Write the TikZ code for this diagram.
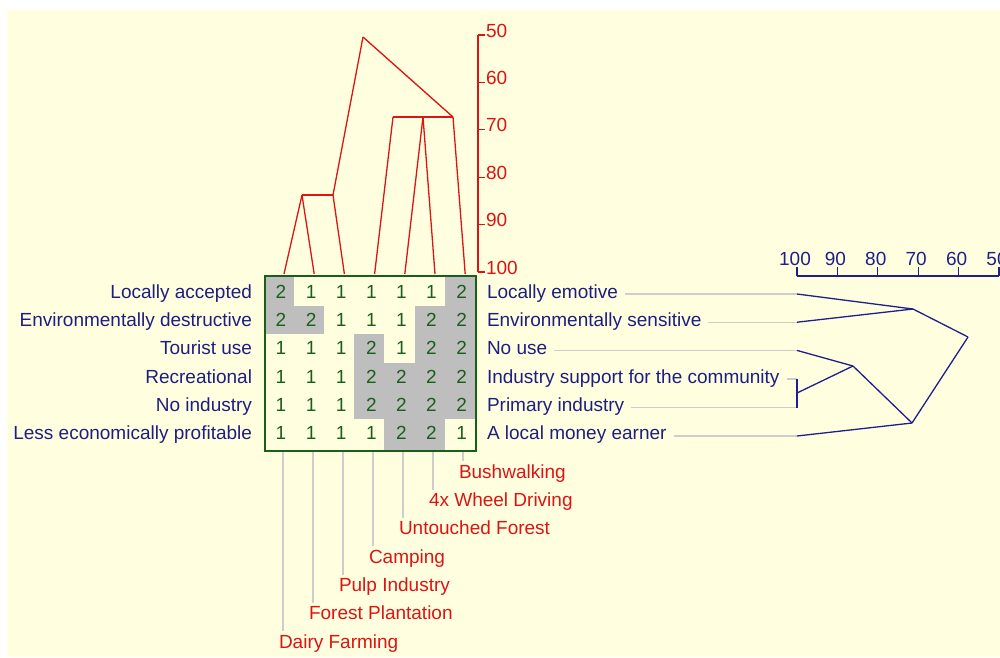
\documentclass[tikz,border=0pt]{standalone}
\usepackage{fontspec}
\setmainfont{Liberation Sans}
\definecolor{bg}{RGB}{255,255,224}
\definecolor{navy}{RGB}{30,30,130}
\definecolor{dred}{RGB}{220,20,20}
\definecolor{dgreen}{RGB}{25,95,25}
\definecolor{cellgray}{RGB}{190,190,190}
\definecolor{leader}{RGB}{205,205,205}
\definecolor{dblue}{RGB}{30,30,140}
\begin{document}
\begin{tikzpicture}[x=1pt,y=-1pt,
  lbl/.style={font=\fontsize{19}{21}\selectfont, inner sep=0pt, outer sep=0pt},
  rowlbl/.style={lbl, text=navy, anchor=base east},
  rlbl/.style={lbl, text=navy, anchor=base west},
  collbl/.style={lbl, text=dred, anchor=base west},
  numlbl/.style={lbl, text=dgreen, anchor=base},
  redax/.style={lbl, text=dred, anchor=base west},
  blueax/.style={lbl, text=dblue, anchor=base},
  redline/.style={draw=dred, line width=1.3pt},
  blueline/.style={draw=dblue, line width=1.3pt},
  leadline/.style={draw=leader, line width=1.4pt},
  gridbox/.style={draw=dgreen, line width=2pt, minimum width=211pt, minimum height=175pt, inner sep=0pt, anchor=north west},
]
\useasboundingbox (0,0) rectangle (1000,657);
\fill[white] (0,0) rectangle (1000,657);
\fill[bg] (7,10) rectangle (1000,657);

% grey cells (value 2)
\fill[cellgray] (264,275) rectangle (294.1,306);
\fill[cellgray] (444.6,275) rectangle (475,306);
\fill[cellgray] (264,306) rectangle (324.2,334);
\fill[cellgray] (414.5,306) rectangle (475,334);
\fill[cellgray] (354.3,334) rectangle (384.4,362.5);
\fill[cellgray] (414.5,334) rectangle (475,362.5);
\fill[cellgray] (354.3,362.5) rectangle (475,419);
\fill[cellgray] (384.4,419) rectangle (444.6,450);

% numbers
\foreach \vals [count=\r from 0] in {{2,1,1,1,1,1,2},{2,2,1,1,1,2,2},{1,1,1,2,1,2,2},{1,1,1,2,2,2,2},{1,1,1,2,2,2,2},{1,1,1,1,2,2,1}}{
  \foreach \v [count=\c from 0] in \vals {
    \node[numlbl] (n\r\c) at (281+30.1*\c, 298.5+28.2*\r) {\v};
  }
}
\node[gridbox] (grid) at (264,275) {};

% row labels left
\node[rowlbl] (rl0) at (252,298.5) {Locally accepted};
\node[rowlbl] (rl1) at (252,326.7) {Environmentally destructive};
\node[rowlbl] (rl2) at (252,354.9) {Tourist use};
\node[rowlbl] (rl3) at (252,383.1) {Recreational};
\node[rowlbl] (rl4) at (252,411.3) {No industry};
\node[rowlbl] (rl5) at (252,439.5) {Less economically profitable};

% row labels right
\node[rlbl] (re0) at (487,298.5) {Locally emotive};
\node[rlbl] (re1) at (487,326.7) {Environmentally sensitive};
\node[rlbl] (re2) at (487,354.9) {No use};
\node[rlbl] (re3) at (487,383.1) {Industry support for the community};
\node[rlbl] (re4) at (487,411.3) {Primary industry};
\node[rlbl] (re5) at (487,439.5) {A local money earner};

% column labels bottom
\node[collbl] (b0) at (279,648) {Dairy Farming};
\node[collbl] (b1) at (309,619.7) {Forest Plantation};
\node[collbl] (b2) at (339,591.4) {Pulp Industry};
\node[collbl] (b3) at (369,563.1) {Camping};
\node[collbl] (b4) at (399,534.8) {Untouched Forest};
\node[collbl] (b5) at (429,506.5) {4x Wheel Driving};
\node[collbl] (b6) at (459,478.2) {Bushwalking};

% bottom leader lines
\foreach \i in {0,...,6}{
  \coordinate (bt\i) at (283+30*\i,452);
  \draw[leadline] (bt\i) -- ([yshift=3pt]bt\i |- b\i.north);
}

% top dendrogram
\foreach \i in {0,...,6}{
  \coordinate (t\i) at (284+30.2*\i,274);
}
\coordinate (P1) at (302,195);
\coordinate (P2) at (333,195);
\coordinate (Rt) at (363,37);
\coordinate (Q1) at (393,117);
\coordinate (Q2) at (423,117);
\coordinate (Q3) at (453,117);
\draw[redline] (t0) -- (P1);
\draw[redline] (t1) -- (P1);
\draw[redline] (P1) -- (P2);
\draw[redline] (t2) -- (P2);
\draw[redline] (P2) -- (Rt);
\draw[redline] (Rt) -- (Q3);
\draw[redline] (Q1) -- (Q3);
\draw[redline] (t3) -- (Q1);
\draw[redline] (t4) -- (Q2);
\draw[redline] (t5) -- (Q2);
\draw[redline] (t6) -- (Q3);

% top axis
\coordinate (ta50) at (478,35);
\coordinate (ta100) at (478,272);
\draw[redline] (ta50) -- (ta100);
\foreach \v [count=\k from 0] in {50,60,70,80,90,100}{
  \coordinate (tk\k) at (478,35+47.4*\k);
  \draw[redline] (tk\k) -- ++(7,0);
  \node[redax] (tl\k) at (486,37+47.4*\k) {\v};
}

% right axis
\coordinate (ra100) at (797,276);
\coordinate (ra50) at (999,276);
\draw[blueline] (ra100) -- (ra50);
\foreach \v [count=\k from 0] in {100,90,80,70,60,50}{
  \coordinate (rk\k) at (797+40.4*\k,276);
  \draw[blueline] (rk\k) -- ++(0,-9);
  \node[blueax] (rl\k x) at (795+40.4*\k,265) {\v};
}

% right dendrogram
\coordinate (L0) at (797,294);
\coordinate (L1) at (797,322.2);
\coordinate (L2) at (797,350.4);
\coordinate (L3) at (797,379);
\coordinate (L4) at (797,407.5);
\coordinate (L5) at (797,436);
\coordinate (M) at (797,393);
\coordinate (A) at (913,309);
\coordinate (R) at (968,337);
\coordinate (B) at (853,366);
\coordinate (C) at (912,423);

\foreach \i in {0,...,5}{
  \draw[leadline] (re\i.east |- L\i) ++(7,0) -- (L\i);
}
\draw[blueline] (L0) -- (A);
\draw[blueline] (L1) -- (A);
\draw[blueline] (A) -- (R);
\draw[blueline] (R) -- (C);
\draw[blueline] (L2) -- (B);
\draw[blueline] (M) -- (B);
\draw[blueline] (B) -- (C);
\draw[blueline] (L5) -- (C);
\draw[blueline] (L3) -- (L4);
\end{tikzpicture}
\end{document}
